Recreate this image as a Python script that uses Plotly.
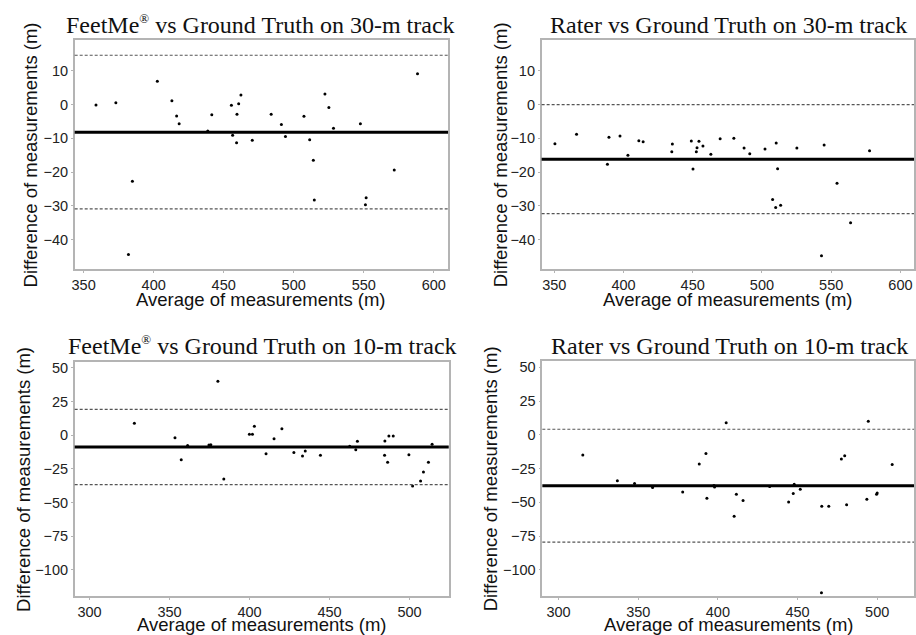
import plotly.graph_objects as go

W, H = 916, 635

# ---------------- data ----------------
titles = [
    "FeetMe<sup><span style='font-size:13px'>®</span></sup> vs Ground Truth on 30-m track",
    "Rater vs Ground Truth on 30-m track",
    "FeetMe<sup><span style='font-size:13px'>®</span></sup> vs Ground Truth on 10-m track",
    "Rater vs Ground Truth on 10-m track",
]

p1_x = [358.8, 373.0, 382.0, 384.8, 402.6, 413.0, 416.4, 418.2, 438.6, 441.5, 455.5, 456.4,
        459.2, 459.5, 460.7, 462.3, 470.4, 483.9, 491.2, 494.1, 507.3, 511.4, 514.0, 514.7,
        522.3, 525.1, 528.4, 547.6, 551.7, 551.2, 571.8, 588.4]
p1_y = [-0.1, 0.5, -44.4, -22.7, 6.9, 1.1, -3.4, -5.7, -7.8, -3.0, -0.2, -9.1,
        -11.3, -2.9, 0.2, 2.8, -10.6, -2.9, -5.9, -9.5, -3.5, -10.4, -16.5, -28.3,
        3.1, -0.9, -7.0, -5.7, -27.6, -29.7, -19.4, 9.1]
p1_lines = [-8.2, 14.6, -30.9]  # mean, upper LoA, lower LoA

p2_x = [350.5, 366.1, 388.4, 389.5, 397.5, 403.2, 411.1, 414.2, 434.9, 435.3, 449.0, 450.2,
        452.6, 453.1, 454.5, 457.4, 463.1, 469.8, 479.7, 487.1, 491.2, 502.2, 507.7, 509.9,
        510.3, 511.3, 513.5, 525.2, 543.0, 544.9, 554.2, 564.0, 577.7]
p2_y = [-11.6, -8.8, -17.7, -9.7, -9.3, -15.0, -10.7, -11.0, -14.0, -11.7, -10.8, -19.1,
        -14.0, -12.8, -10.9, -12.3, -14.7, -10.1, -10.0, -12.9, -14.6, -13.2, -28.1, -30.5,
        -11.4, -19.0, -29.8, -12.9, -44.8, -12.0, -23.3, -35.0, -13.7]
p2_lines = [-16.2, 0.0, -32.3]

p3_x = [328.0, 353.4, 357.3, 361.3, 374.6, 375.8, 380.2, 383.9, 399.9, 401.8, 403.0, 410.3,
        415.3, 420.2, 427.7, 433.1, 434.8, 444.3, 462.6, 466.4, 467.4, 484.4, 484.6, 486.3,
        487.1, 489.8, 499.6, 501.9, 506.9, 508.7, 511.8, 514.1]
p3_y = [9.0, -1.8, -18.1, -7.5, -7.2, -7.0, 40.1, -32.4, 0.7, 0.7, 6.8, -13.7,
        -2.6, 4.8, -12.7, -15.4, -11.7, -14.9, -8.2, -10.7, -4.5, -14.9, -4.3, -20.1,
        -0.6, -0.6, -14.4, -37.6, -33.9, -27.2, -20.1, -6.7]
p3_lines = [-8.7, 19.2, -36.6]

p4_x = [315.2, 336.9, 347.7, 359.0, 377.9, 388.3, 392.5, 393.1, 397.5, 397.9, 405.2, 410.2,
        411.6, 415.8, 432.5, 444.4, 447.3, 447.9, 451.7, 465.2, 465.0, 469.6, 477.5, 479.6,
        480.8, 493.5, 494.4, 499.6, 500.0, 509.4]
p4_y = [-14.9, -34.1, -36.1, -39.1, -42.3, -21.6, -13.9, -47.0, -37.6, -38.6, 9.0, -60.3,
        -44.0, -48.7, -38.3, -49.7, -43.5, -36.6, -40.3, -52.9, -117.0, -52.9, -17.9, -15.6,
        -51.7, -47.7, 10.0, -44.0, -43.0, -22.0]
p4_lines = [-37.7, 4.1, -79.4]

xs = [p1_x, p2_x, p3_x, p4_x]
ys = [p1_y, p2_y, p3_y, p4_y]
hlines = [p1_lines, p2_lines, p3_lines, p4_lines]

x_ranges = [[343.6, 610.2], [340.9, 609.8], [290.7, 524.5], [289.8, 523.1]]
y_ranges = [[-48.75, 19.15], [-48.75, 19.15], [-119.2, 54.3], [-119.2, 54.5]]
y_ticks = [[10, 0, -10, -20, -30, -40]] * 2 + [[50, 25, 0, -25, -50, -75, -100]] * 2
x_ticks = [[350, 400, 450, 500, 550, 600]] * 2 + [[300, 350, 400, 450, 500]] * 2

# ---------------- layout geometry (pixels) ----------------
boxes = [(72, 447, 38, 268), (541, 915, 38, 268), (72, 447.7, 361.3, 595.7), (541.7, 915, 360.3, 595.7)]
title_pos = [(259, 23), (729, 23), (260.5, 345), (729.5, 345)]
xtitle_pos = [(259, 298.5), (728, 298.5), (260, 624.5), (729.5, 624.5)]
ytitle_pos = [(28, 153), (500, 153), (21, 478.5), (490, 478)]

fig = go.Figure()
layout = dict(
    width=W, height=H, margin=dict(l=0, r=0, t=0, b=0),
    paper_bgcolor="white", plot_bgcolor="white", showlegend=False,
)
shapes = []
annotations = []
gridc = "#b4b4b4"
tickfont = dict(family="Liberation Sans", size=14.5, color="#222")
for i in range(4):
    n = "" if i == 0 else str(i + 1)
    l, r, t, b = boxes[i]
    layout["xaxis" + n] = dict(
        domain=[l / W, r / W], range=x_ranges[i], anchor="y" + n,
        showgrid=False, zeroline=False, showline=True, mirror=True,
        linecolor=gridc, linewidth=1.5, ticks="outside", ticklen=2, tickcolor=gridc,
        ticklabelstandoff=0, tickvals=x_ticks[i], tickfont=tickfont,
    )
    layout["yaxis" + n] = dict(
        domain=[1 - b / H, 1 - t / H], range=y_ranges[i], anchor="x" + n,
        showgrid=False, zeroline=False, showline=True, mirror=True,
        linecolor=gridc, linewidth=1.5, ticks="outside", ticklen=2, tickcolor=gridc,
        ticklabelstandoff=0, tickvals=y_ticks[i], tickfont=tickfont,
    )
    fig.add_trace(go.Scatter(
        x=xs[i], y=ys[i], mode="markers", xaxis="x" + n, yaxis="y" + n,
        marker=dict(color="black", size=3), hoverinfo="skip",
    ))
    mean, up, lo = hlines[i]
    shapes.append(dict(type="line", xref="x" + n + " domain", yref="y" + n, x0=0, x1=1,
                       y0=mean, y1=mean, line=dict(color="black", width=3)))
    for v in (up, lo):
        shapes.append(dict(type="line", xref="x" + n + " domain", yref="y" + n, x0=0, x1=1,
                           y0=v, y1=v, line=dict(color="#555555", width=1.2, dash="3px,2px")))
    tx, ty = title_pos[i]
    annotations.append(dict(text=titles[i], x=tx / W, y=1 - ty / H, xref="paper", yref="paper",
                            xanchor="center", yanchor="middle", showarrow=False,
                            font=dict(family="Liberation Serif", size=24, color="#111")))
    ax_, ay_ = xtitle_pos[i]
    annotations.append(dict(text="Average of measurements (m)", x=ax_ / W, y=1 - ay_ / H,
                            xref="paper", yref="paper", xanchor="center", yanchor="middle",
                            showarrow=False,
                            font=dict(family="Liberation Sans", size=18.5, color="#111")))
    bx, by = ytitle_pos[i]
    annotations.append(dict(text="Difference of measurements (m)", x=bx / W, y=1 - by / H,
                            xref="paper", yref="paper", xanchor="center", yanchor="middle",
                            textangle=-90, showarrow=False,
                            font=dict(family="Liberation Sans", size=18.5, color="#111")))

layout["shapes"] = shapes
layout["annotations"] = annotations
fig.update_layout(**layout)
fig.write_html("out.html")
